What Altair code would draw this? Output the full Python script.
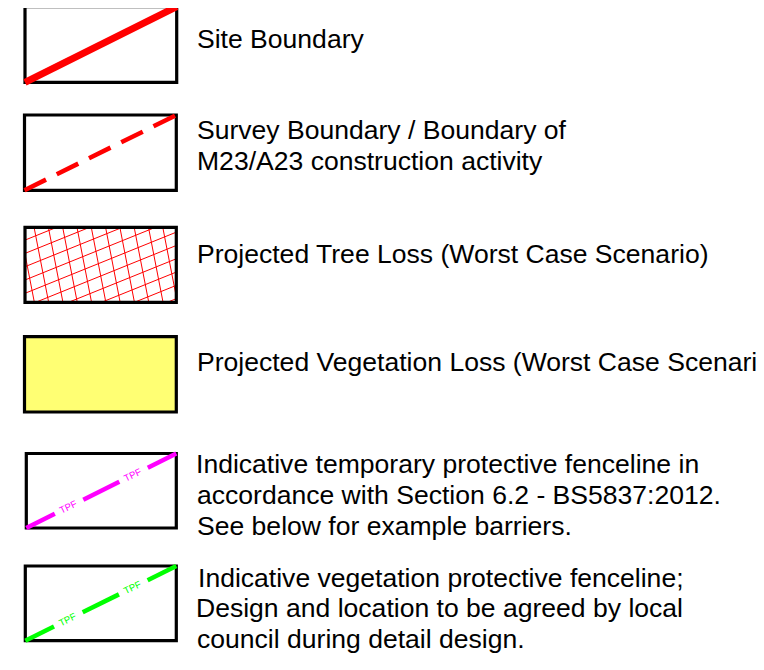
import math
import altair as alt
import pandas as pd

# ---------------- legend content ----------------
labels = [
    ["Site Boundary"],
    ["Survey Boundary / Boundary of", "M23/A23 construction activity"],
    ["Projected Tree Loss (Worst Case Scenario)"],
    ["Projected Vegetation Loss (Worst Case Scenario)"],
    ["Indicative temporary protective fenceline in",
     "accordance with Section 6.2 - BS5837:2012.",
     "See below for example barriers."],
    ["Indicative vegetation protective fenceline;",
     "Design and location to be agreed by local",
     "council during detail design."],
]
symbol_kinds = ["solid", "dashed", "hatch", "fill", "tpf", "tpf"]
symbol_colors = ["#ff0000", "#ff0000", "#ff0000", "#ffff73", "#ff00ff", "#00ff00"]
tpf_label = "TPF"

# ---------------- layout (page pixels) ----------------
box_left = [25, 24.5, 25, 24.5, 26.3, 25.3]
box_right = [176.7, 176.3, 176.3, 176.3, 176.3, 176.3]
box_top = [6.7, 115, 227.3, 336.7, 453.5, 566]
box_bottom = [82.3, 190.3, 302.3, 412, 528, 640.7]
text_x = [[197], [197, 197], [197], [197], [196, 197, 197], [198, 196, 197]]
text_base = [[48], [139, 170], [263], [371], [473, 504, 535], [587, 617, 648]]
FONT = "Liberation Sans"
FS = 26.55

W, H = 748, 654
xs = alt.Scale(domain=[8, 8 + W], nice=False, zero=False)
ys = alt.Scale(domain=[8, 8 + H], nice=False, zero=False, reverse=True)

# ---------------- data tables ----------------
boxes = pd.DataFrame({
    "x": box_left, "x2": box_right, "y": box_top, "y2": box_bottom,
    "fill": ["#ffffff" if k != "fill" else c for k, c in zip(symbol_kinds, symbol_colors)],
})

text_rows = []
for lines, xl, bl in zip(labels, text_x, text_base):
    for t, x, y in zip(lines, xl, bl):
        text_rows.append({"t": t, "x": x, "y": y})
texts = pd.DataFrame(text_rows)


def clip(p0, p1, x0, y0, x1, y1):
    """Liang-Barsky clip of segment p0-p1 to rectangle."""
    dx, dy = p1[0] - p0[0], p1[1] - p0[1]
    t0, t1 = 0.0, 1.0
    for p, q in ((-dx, p0[0] - x0), (dx, x1 - p0[0]), (-dy, p0[1] - y0), (dy, y1 - p0[1])):
        if p == 0:
            if q < 0:
                return None
        else:
            r = q / p
            if p < 0:
                t0 = max(t0, r)
            else:
                t1 = min(t1, r)
    if t0 >= t1:
        return None
    return (p0[0] + t0 * dx, p0[1] + t0 * dy, p0[0] + t1 * dx, p0[1] + t1 * dy)


# hatch lines (pattern)
hatch = []
i = symbol_kinds.index("hatch")
hx0, hx1, hy0, hy1 = box_left[i], box_right[i], box_top[i], box_bottom[i]
bw, bh = hx1 - hx0, hy1 - hy0
slope = math.tan(math.radians(22))
sp = 13.3
base = 293.3
for k in range(-30, 30):
    yl = base + k * sp
    seg = clip((hx0 - 5, yl + 5 * slope), (hx1 + 5, yl - (bw + 5) * slope), hx0, hy0, hx1, hy1)
    if seg:
        hatch.append(dict(zip(["x", "y", "x2", "y2"], seg)))
cot = 1 / math.tan(math.radians(79))
sp2 = 14.3
base2 = 61.7
for k in range(-30, 30):
    xt = base2 + k * sp2
    seg = clip((xt, hy0 - 5), (xt + (bh + 10) * cot, hy1 + 5), hx0, hy0, hx1, hy1)
    if seg:
        hatch.append(dict(zip(["x", "y", "x2", "y2"], seg)))
hatch = pd.DataFrame(hatch)


def diag(j):
    return (box_left[j], box_bottom[j], box_right[j], box_top[j])


solid = pd.DataFrame([dict(zip(["x", "y", "x2", "y2"], diag(0)))])
dashed = pd.DataFrame([dict(zip(["x", "y", "x2", "y2"], diag(1)))])

dash_fracs = [(0.0, 0.19), (0.38, 0.62), (0.81, 1.0)]
tpf_fracs = [0.28, 0.71]
tpf_segs, tpf_texts = [], []
for j, kind in enumerate(symbol_kinds):
    if kind != "tpf":
        continue
    x0, y0, x1, y1 = diag(j)
    for a, b in dash_fracs:
        tpf_segs.append({"x": x0 + a * (x1 - x0), "y": y0 + a * (y1 - y0),
                         "x2": x0 + b * (x1 - x0), "y2": y0 + b * (y1 - y0),
                         "c": symbol_colors[j]})
    for f in tpf_fracs:
        tpf_texts.append({"x": x0 + f * (x1 - x0), "y": y0 + f * (y1 - y0),
                          "c": symbol_colors[j], "t": tpf_label})
tpf_segs = pd.DataFrame(tpf_segs)
tpf_texts = pd.DataFrame(tpf_texts)
x0, y0, x1, y1 = diag(4)
tpf_angle = 360 - math.degrees(math.atan2(y0 - y1, x1 - x0))

X = lambda f="x": alt.X(f, type="quantitative", scale=xs, axis=None)
Y = lambda f="y": alt.Y(f, type="quantitative", scale=ys, axis=None)

box_fill = alt.Chart(boxes).mark_rect(strokeWidth=0).encode(
    x=X(), x2="x2", y=Y(), y2="y2", fill=alt.Fill("fill:N", scale=None))
hatch_l = alt.Chart(hatch).mark_rule(color="#ff0000", strokeWidth=1).encode(
    x=X(), x2="x2", y=Y(), y2="y2")
box_stroke = alt.Chart(boxes).mark_rect(fill=None, fillOpacity=0, stroke="#000000", strokeWidth=3.2).encode(
    x=X(), x2="x2", y=Y(), y2="y2")
solid_l = alt.Chart(solid).mark_rule(color="#ff0000", strokeWidth=7).encode(
    x=X(), x2="x2", y=Y(), y2="y2")
dashed_l = alt.Chart(dashed).mark_rule(color="#ff0000", strokeWidth=4.5, strokeDash=[24, 12]).encode(
    x=X(), x2="x2", y=Y(), y2="y2")
tpf_l = alt.Chart(tpf_segs).mark_rule(strokeWidth=4.5).encode(
    x=X(), x2="x2", y=Y(), y2="y2", color=alt.Color("c:N", scale=None))
tpf_t = alt.Chart(tpf_texts).mark_text(font=FONT, fontSize=9.5, angle=tpf_angle,
                                       align="center", baseline="middle").encode(
    x=X(), y=Y(), text="t:N", color=alt.Color("c:N", scale=None))
label_t = alt.Chart(texts).mark_text(font=FONT, fontSize=FS, align="left",
                                     baseline="alphabetic", color="#000000").encode(
    x=X(), y=Y(), text="t:N")

chart = alt.layer(box_fill, hatch_l, box_stroke, solid_l, dashed_l, tpf_l, tpf_t, label_t).properties(
    width=W, height=H,
    autosize=alt.AutoSizeParams(type="none"),
    padding=0,
).configure_view(stroke=None)

chart.save("out.html", embed_options={"renderer": "svg", "actions": False})
